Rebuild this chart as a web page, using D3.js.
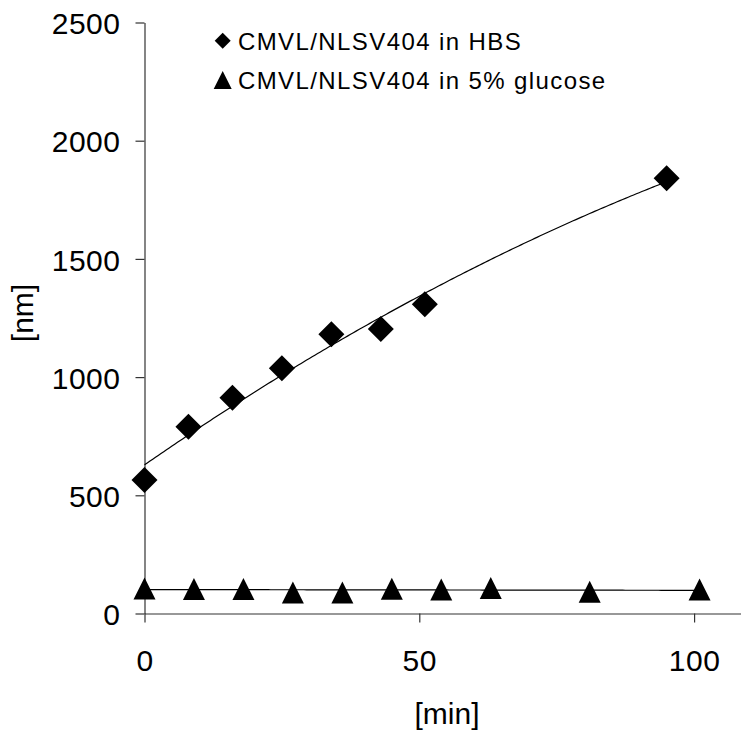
<!DOCTYPE html>
<html>
<head>
<meta charset="utf-8">
<script src="https://cdn.jsdelivr.net/npm/d3@7"></script>
<style>
  html, body { margin: 0; padding: 0; background: #fff; }
  svg { display: block; }
  text { font-family: "Liberation Sans", Arial, Helvetica, sans-serif; fill: #000; }
</style>
</head>
<body>
<svg id="chart" width="741" height="731"></svg>
<script>
// Particle size over time for CMVL/NLSV404 complexes
const hbsMin = [0, 8, 16, 25, 34, 43, 51, 95];
const hbsNm = [565, 790, 913, 1037, 1181, 1203, 1308, 1841];

const glucoseMin = [0, 9, 18, 27, 36, 45, 54, 63, 81, 101];
const glucoseNm = [106, 104, 104, 89, 89, 105, 101, 108, 92, 101];

const seriesNames = ["CMVL/NLSV404 in HBS", "CMVL/NLSV404 in 5% glucose"];
const xTicks = [0, 50, 100];
const yTicks = [0, 500, 1000, 1500, 2000, 2500];
const xTitle = "[min]";
const yTitle = "[nm]";

const svg = d3.select("#chart");

const x = d3.scaleLinear().domain([0, 108.5]).range([144.5, 740.8]);
const y = d3.scaleLinear().domain([0, 2500]).range([613.5, 22.5]);

// Least-squares polynomial fit (order 1 or 2)
function polyFit(xs, ys, order) {
  const n = order + 1;
  const A = Array.from({length: n}, () => new Array(n + 1).fill(0));
  for (let k = 0; k < xs.length; k++) {
    for (let i = 0; i < n; i++) {
      for (let j = 0; j < n; j++) A[i][j] += Math.pow(xs[k], i + j);
      A[i][n] += ys[k] * Math.pow(xs[k], i);
    }
  }
  for (let i = 0; i < n; i++) {
    let p = i;
    for (let r = i + 1; r < n; r++) if (Math.abs(A[r][i]) > Math.abs(A[p][i])) p = r;
    [A[i], A[p]] = [A[p], A[i]];
    for (let r = 0; r < n; r++) {
      if (r === i) continue;
      const f = A[r][i] / A[i][i];
      for (let c = i; c <= n; c++) A[r][c] -= f * A[i][c];
    }
  }
  const coef = A.map((row, i) => row[n] / row[i]);
  return t => coef.reduce((s, c, i) => s + c * Math.pow(t, i), 0);
}

// Custom marker shapes
const diamond = {
  draw(ctx, size) {
    const r = Math.sqrt(size) / 2;
    ctx.moveTo(0, -r); ctx.lineTo(r, 0); ctx.lineTo(0, r); ctx.lineTo(-r, 0); ctx.closePath();
  }
};
const triangle = {
  draw(ctx, size) {
    const r = Math.sqrt(size) / 2;
    ctx.moveTo(0, -r); ctx.lineTo(r, r); ctx.lineTo(-r, r); ctx.closePath();
  }
};

// Axes
const yAxis = d3.axisLeft(y).tickValues(yTicks).tickSize(9).tickSizeOuter(0).tickPadding(15)
  .tickFormat(d3.format("d"));
const xAxis = d3.axisBottom(x).tickValues(xTicks).tickSize(9).tickSizeOuter(0)
  .tickFormat(d3.format("d"));

const gx = svg.append("g").attr("transform", `translate(0,${y(0)})`).call(xAxis);
const gy = svg.append("g").attr("transform", `translate(${x(0)},0)`).call(yAxis);

[gx, gy].forEach(g => {
  g.selectAll("path.domain").attr("stroke", "#333").attr("stroke-width", 1.2);
  g.selectAll(".tick line").attr("stroke", "#333").attr("stroke-width", 1.2);
  g.selectAll(".tick text")
    .style("font-family", '"Liberation Sans", Arial, sans-serif')
    .style("font-size", "30px")
    .style("letter-spacing", "0.5px")
    .attr("fill", "#000");
});
gy.selectAll(".tick text").attr("dy", "0.37em");
gx.selectAll(".tick text").attr("y", 57.5).attr("dy", 0);

// Axis titles
svg.append("text")
  .attr("x", 447).attr("y", 724)
  .attr("text-anchor", "middle")
  .style("font-size", "30px")
  .text(xTitle);

svg.append("text")
  .attr("transform", "translate(33,313) rotate(-90)")
  .attr("text-anchor", "middle")
  .style("font-size", "30px")
  .text(yTitle);

// Trend lines
const line = d3.line().x(d => x(d[0])).y(d => y(d[1]));
const hbsFit = polyFit(hbsMin, hbsNm, 2);
const gluFit = polyFit(glucoseMin, glucoseNm, 1);

const hbsCurve = d3.range(0, d3.max(hbsMin) + 0.001, 0.5).map(t => [t, hbsFit(t)]);
const gluCurve = d3.range(0, d3.max(glucoseMin) + 0.001, 0.5).map(t => [t, gluFit(t)]);

svg.append("path").datum(hbsCurve).attr("d", line)
  .attr("fill", "none").attr("stroke", "#000").attr("stroke-width", 1.2);
svg.append("path").datum(gluCurve).attr("d", line)
  .attr("fill", "none").attr("stroke", "#000").attr("stroke-width", 1.2);

// Data markers
const diamondPath = d3.symbol().type(diamond).size(26 * 26);
const trianglePath = d3.symbol().type(triangle).size(22 * 22);

svg.append("g").selectAll("path")
  .data(hbsMin.map((m, i) => [m, hbsNm[i]]))
  .join("path")
  .attr("d", diamondPath)
  .attr("transform", d => `translate(${x(d[0])},${y(d[1])})`)
  .attr("fill", "#000");

svg.append("g").selectAll("path")
  .data(glucoseMin.map((m, i) => [m, glucoseNm[i]]))
  .join("path")
  .attr("d", trianglePath)
  .attr("transform", d => `translate(${x(d[0])},${y(d[1])})`)
  .attr("fill", "#000");

// Legend
const legend = svg.append("g");
legend.append("path")
  .attr("d", d3.symbol().type(diamond).size(16 * 16))
  .attr("transform", "translate(222.7,40.7)")
  .attr("fill", "#000");
legend.append("path")
  .attr("d", d3.symbol().type(triangle).size(18 * 18))
  .attr("transform", "translate(222.7,80)")
  .attr("fill", "#000");
legend.selectAll("text.entry")
  .data(seriesNames)
  .join("text")
  .attr("class", "entry")
  .attr("x", 238)
  .attr("y", (d, i) => 49.5 + i * 39)
  .style("font-size", "24px")
  .style("letter-spacing", "1.4px")
  .text(d => d);
</script>
</body>
</html>
